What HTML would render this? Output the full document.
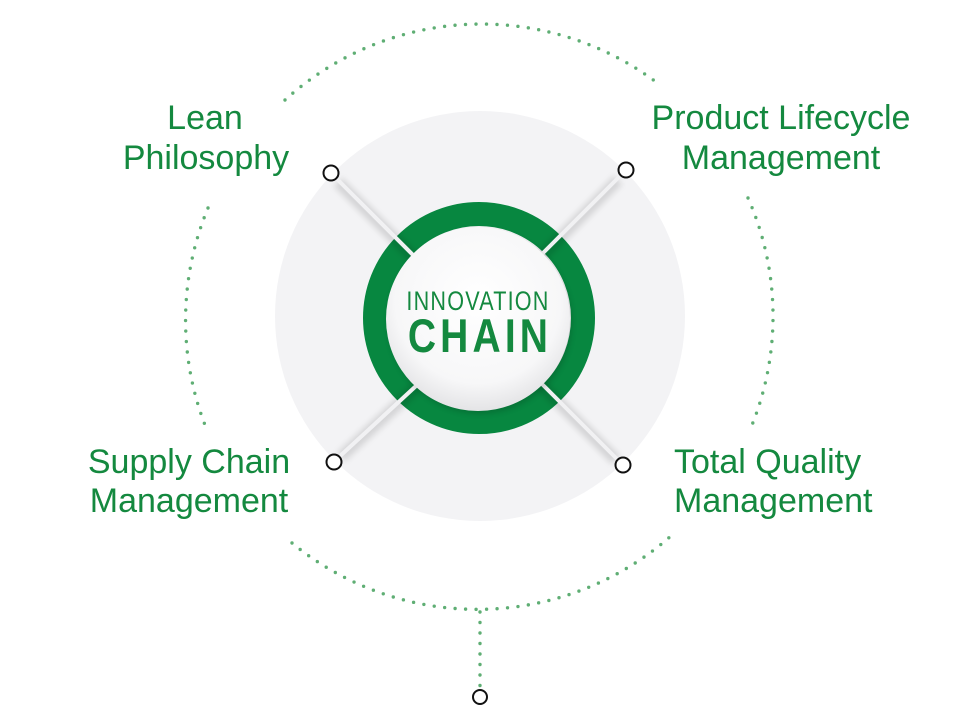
<!DOCTYPE html>
<html><head><meta charset="utf-8"><style>
html,body{margin:0;padding:0;background:#fff;}
svg{display:block;}
.lbl{font-family:"Liberation Sans",sans-serif;font-size:34px;fill:#14893f;}
</style></head><body>
<svg width="960" height="720" viewBox="0 0 960 720" xmlns="http://www.w3.org/2000/svg">
<defs>
<radialGradient id="ig" cx="50%" cy="40%" r="60%">
<stop offset="0" stop-color="#ffffff"/><stop offset="0.75" stop-color="#f7f7f8"/><stop offset="1" stop-color="#e4e4e6"/>
</radialGradient>
<filter id="bl"><feGaussianBlur stdDeviation="3"/></filter>
</defs>
<circle cx="480" cy="316" r="205" fill="#f3f3f5"/>
<circle cx="479" cy="318" r="104" fill="none" stroke="#078740" stroke-width="24"/>
<g stroke-linecap="butt">
<line x1="338" y1="182" x2="420" y2="264" stroke="#000" stroke-opacity="0.12" stroke-width="12" filter="url(#bl)"/>
<line x1="618" y1="180" x2="540" y2="258" stroke="#000" stroke-opacity="0.12" stroke-width="12" filter="url(#bl)"/>
<line x1="341" y1="457" x2="418" y2="386" stroke="#000" stroke-opacity="0.12" stroke-width="12" filter="url(#bl)"/>
<line x1="616" y1="460" x2="540" y2="384" stroke="#000" stroke-opacity="0.12" stroke-width="12" filter="url(#bl)"/>
<line x1="336" y1="178" x2="418" y2="260" stroke="#f1f1f3" stroke-width="4"/>
<line x1="620" y1="176" x2="542" y2="254" stroke="#f1f1f3" stroke-width="4"/>
<line x1="339" y1="457" x2="416" y2="386" stroke="#f1f1f3" stroke-width="4"/>
<line x1="618" y1="460" x2="542" y2="384" stroke="#f1f1f3" stroke-width="4"/>
</g>
<circle cx="480" cy="322" r="92" fill="#000" opacity="0.15" filter="url(#bl)"/>
<circle cx="478" cy="319" r="92" fill="url(#ig)"/>
<text x="478" y="310" text-anchor="middle" font-family="'Liberation Sans Narrow','Liberation Sans',sans-serif" font-size="27" fill="#14893f" letter-spacing="1.5" transform="translate(478 0) scale(0.8 1) translate(-478 0)">INNOVATION</text>
<text x="480" y="352" text-anchor="middle" font-family="'Liberation Sans Narrow','Liberation Sans',sans-serif" font-weight="bold" font-size="47" fill="#14893f" letter-spacing="5" transform="translate(480 0) scale(0.83 1) translate(-480 0)">CHAIN</text>
<g fill="none" stroke="#5fae74" stroke-width="3.4" stroke-linecap="round" stroke-dasharray="0 10.5">
<path d="M285 100 A292 292 0 0 1 660 85"/>
<path d="M208 208 A292 292 0 0 0 205 425"/>
<path d="M748 198 A292 292 0 0 1 752 425"/>
<path d="M292 543 A292 292 0 0 0 672 535"/>
<path d="M480 612 L480 686"/>
</g>
<g fill="#fff" stroke="#111" stroke-width="2">
<circle cx="331" cy="173" r="7.5"/>
<circle cx="626" cy="170" r="7.5"/>
<circle cx="334" cy="462" r="7.5"/>
<circle cx="623" cy="465" r="7.5"/>
<circle cx="480" cy="697" r="7"/>
</g>
<text class="lbl" x="205" y="129" text-anchor="middle">Lean</text>
<text class="lbl" x="206" y="169" text-anchor="middle">Philosophy</text>
<text class="lbl" x="781" y="129" text-anchor="middle">Product Lifecycle</text>
<text class="lbl" x="781" y="169" text-anchor="middle">Management</text>
<text class="lbl" x="189" y="473" text-anchor="middle">Supply Chain</text>
<text class="lbl" x="189" y="512" text-anchor="middle">Management</text>
<text class="lbl" x="674" y="473">Total Quality</text>
<text class="lbl" x="674" y="512">Management</text>
</svg>
</body></html>
